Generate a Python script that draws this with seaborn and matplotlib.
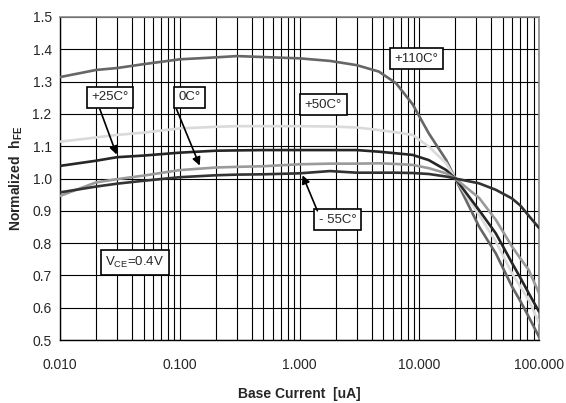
import numpy as np
import pandas as pd
import matplotlib
matplotlib.use("Agg")
import matplotlib.pyplot as plt
from matplotlib.ticker import FixedLocator, FixedFormatter, LogLocator, NullFormatter
import seaborn as sns

# Base current sweep (uA) and normalized hFE for each junction temperature
base_current = [0.01, 0.02, 0.03, 0.05, 0.1, 0.2, 0.3, 0.5, 1.0, 1.8, 3.0, 4.6,
                6.4, 8.8, 12.0, 16.8, 20.0, 31.6, 43.6, 59.6, 70.0, 82.0, 100.0]
hfe_110 = [1.314, 1.336, 1.342, 1.354, 1.369, 1.375, 1.379, 1.376, 1.372, 1.364, 1.351, 1.331,
           1.295, 1.230, 1.140, 1.057, 1.000, 0.851, 0.768, 0.665, 0.620, 0.572, 0.510]
hfe_50 = [1.114, 1.127, 1.135, 1.142, 1.155, 1.160, 1.162, 1.162, 1.162, 1.161, 1.158, 1.150,
          1.143, 1.135, 1.099, 1.047, 1.000, 0.887, 0.805, 0.706, 0.665, 0.624, 0.553]
hfe_25 = [1.039, 1.055, 1.066, 1.071, 1.080, 1.086, 1.087, 1.088, 1.088, 1.088, 1.088, 1.083,
          1.078, 1.073, 1.057, 1.026, 1.000, 0.902, 0.830, 0.738, 0.692, 0.645, 0.588]
hfe_0 = [0.946, 0.988, 0.998, 1.009, 1.026, 1.034, 1.036, 1.038, 1.044, 1.046, 1.046, 1.047,
         1.045, 1.042, 1.032, 1.016, 1.000, 0.940, 0.872, 0.789, 0.752, 0.717, 0.645]
hfe_m55 = [0.957, 0.975, 0.984, 0.993, 1.004, 1.010, 1.012, 1.013, 1.016, 1.023, 1.018, 1.018,
           1.018, 1.017, 1.014, 1.006, 1.000, 0.985, 0.965, 0.938, 0.916, 0.885, 0.847]

temperatures = ["+110C°", "+50C°", "+25C°", "0C°", "- 55C°"]
line_colors = ["#666666", "#dadada", "#262626", "#9a9a9a", "#333333"]

x_ticks = [0.01, 0.1, 1, 10, 100]
x_tick_labels = ["0.010", "0.100", "1.000", "10.000", "100.000"]
y_ticks = [0.5, 0.6, 0.7, 0.8, 0.9, 1.0, 1.1, 1.2, 1.3, 1.4, 1.5]

series = [hfe_110, hfe_50, hfe_25, hfe_0, hfe_m55]
df = pd.concat(
    [pd.DataFrame({"Ib": base_current, "hFE": vals, "temp": t})
     for t, vals in zip(temperatures, series)],
    ignore_index=True,
)

sns.set_theme(style="white")
plt.rcParams["font.family"] = ["Liberation Sans", "DejaVu Sans"]
plt.rcParams["mathtext.fontset"] = "custom"
plt.rcParams["mathtext.rm"] = "Liberation Sans"
plt.rcParams["mathtext.bf"] = "Liberation Sans:bold"

fig = plt.figure(figsize=(5.66, 4.03), dpi=100)
ax = fig.add_axes([60 / 566, 1 - 340 / 403, 479 / 566, 323 / 403])
ax.set_xscale("log")

sns.lineplot(data=df, x="Ib", y="hFE", hue="temp", hue_order=temperatures,
             palette=dict(zip(temperatures, line_colors)), linewidth=1.9,
             legend=False, sort=False, ax=ax, zorder=3)

ax.set_xlim(0.01, 100)
ax.set_ylim(0.5, 1.5)

# grid: every 0.1 horizontally, every 1..9 of each decade vertically
ax.xaxis.set_major_locator(FixedLocator(x_ticks))
ax.xaxis.set_major_formatter(FixedFormatter(x_tick_labels))
ax.xaxis.set_minor_locator(LogLocator(base=10, subs=np.arange(2, 10)))
ax.xaxis.set_minor_formatter(NullFormatter())
ax.yaxis.set_major_locator(FixedLocator(y_ticks))
ax.set_yticklabels([f"{v:.1f}" for v in y_ticks])
ax.grid(True, which="both", axis="x", color="black", linewidth=0.8)
ax.grid(True, which="major", axis="y", color="black", linewidth=0.8)
ax.set_axisbelow(True)

ax.tick_params(axis="x", which="major", direction="out", length=4, width=1,
               color="black", labelsize=10, pad=9)
ax.tick_params(axis="x", which="minor", length=0)
ax.tick_params(axis="y", which="major", direction="out", length=3, width=1,
               color="black", labelsize=10, pad=3)

for side in ["left", "bottom"]:
    ax.spines[side].set_color("black")
    ax.spines[side].set_linewidth(1)
for side in ["top", "right"]:
    ax.spines[side].set_color("#888888")
    ax.spines[side].set_linewidth(1.2)

ax.set_xlabel("Base Current  [uA]", fontsize=10, fontweight="bold", labelpad=11)
ax.set_ylabel(r"Normalized  $\mathbf{h}_{\mathbf{FE}}$", fontsize=10,
              fontweight="bold", labelpad=5)

box = dict(boxstyle="square,pad=0.35", facecolor="white", edgecolor="black", linewidth=1.2)
arrow = dict(arrowstyle="-|>", color="black", lw=1.2, mutation_scale=12,
             shrinkA=0, shrinkB=0)

fs = 9.5
ax.text(9.44, 1.371, "+110C°", fontsize=fs, ha="center", va="center", bbox=box, zorder=5)
ax.text(1.585, 1.228, "+50C°", fontsize=fs, ha="center", va="center", bbox=box, zorder=5)
ax.text(0.0261, 1.251, "+25C°", fontsize=fs, ha="center", va="center", bbox=box, zorder=5)
ax.text(0.1205, 1.251, "0C°", fontsize=fs, ha="center", va="center", bbox=box, zorder=5)
ax.text(2.08, 0.873, "- 55C°", fontsize=fs, ha="center", va="center", bbox=box, zorder=5)
ax.text(0.0422, 0.740, r"V$_{\mathrm{CE}}$=0.4V", fontsize=fs, ha="center", va="center",
        bbox=box, zorder=5)

ax.annotate("", xy=(0.0297, 1.074), xytext=(0.0215, 1.215), arrowprops=arrow, zorder=6)
ax.annotate("", xy=(0.1468, 1.040), xytext=(0.0939, 1.215), arrowprops=arrow, zorder=6)
ax.annotate("", xy=(1.06, 1.010), xytext=(1.41, 0.900), arrowprops=arrow, zorder=6)

fig.savefig("out.png", dpi=100, facecolor="white")
